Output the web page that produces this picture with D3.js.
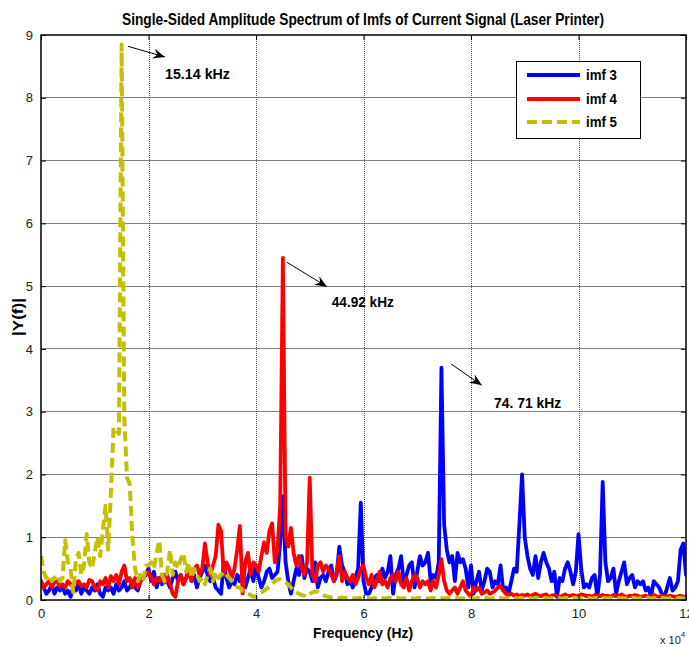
<!DOCTYPE html>
<html><head><meta charset="utf-8">
<script src="https://cdn.jsdelivr.net/npm/d3@7"></script>
<style>body{margin:0;background:#fff}svg{display:block}</style>
</head><body>
<svg id="chart" width="689" height="647"></svg>
<script>
// ---------------- DATA ----------------
const stepHz = 500; // frequency resolution of the spectra (0 .. 120 kHz)
const imf3 = [
  0.3,0.2,0.1,0.15,0.25,0.1,0.2,0.15,0.2,0.1,
  0.15,0.05,0.2,0.15,0.25,0.1,0.2,0.15,0.1,0.2,
  0.15,0.25,0.1,0.05,0.2,0.15,0.2,0.1,0.25,0.15,
  0.2,0.3,0.15,0.2,0.3,0.2,0.15,0.3,0.35,0.4,
  0.5,0.3,0.45,0.2,0.35,0.25,0.4,0.3,0.2,0.35,
  0.45,0.3,0.4,0.25,0.35,0.5,0.3,0.4,0.2,0.35,
  0.45,0.55,0.4,0.3,0.35,0.2,0.15,0.1,0.6,0.35,
  0.2,0.3,0.25,0.4,0.3,0.45,0.2,0.35,0.5,0.3,
  0.55,0.35,0.2,0.3,0.45,0.5,0.35,0.4,0.45,0.9,
  1.65,0.6,0.3,0.1,0.3,0.5,0.4,0.7,0.35,0.5,
  0.45,0.3,0.6,0.2,0.35,0.4,0.3,0.45,0.55,0.3,
  0.4,0.85,0.55,0.45,0.25,0.3,0.2,0.35,0.5,1.55,
  0.3,0.1,0.1,0.2,0.35,0.4,0.3,0.5,0.35,0.45,
  0.7,0.1,0.4,0.5,0.7,0.25,0.4,0.55,0.6,0.2,
  0.45,0.7,0.55,0.6,0.75,0.3,0.4,0.35,0.6,3.7,
  1.2,0.8,0.6,0.7,0.3,0.75,0.6,0.65,0.5,0.2,
  0.55,0.1,0.3,0.45,0.15,0.3,0.5,0.45,0.2,0.3,
  0.25,0.55,0.15,0.2,0.1,0.3,0.5,0.45,1.2,2.0,
  1.0,0.7,0.5,0.4,0.7,0.35,0.6,0.75,0.6,0.5,
  0.3,0.45,0.05,0.35,0.3,0.5,0.6,0.45,0.25,0.45,
  1.05,0.5,0.2,0.25,0.2,0.35,0.4,0.05,0.4,1.88,
  0.6,0.3,0.35,0.5,0.1,0.3,0.45,0.6,0.25,0.35,
  0.4,0.2,0.3,0.25,0.3,0.15,0.2,0.05,0.3,0.25,
  0.2,0.1,0.05,0.2,0.35,0.15,0.2,0.3,0.8,0.9,
  0.4
];
const imf4 = [
  0.3,0.2,0.25,0.3,0.2,0.28,0.3,0.22,0.25,0.2,
  0.3,0.25,0.2,0.28,0.3,0.22,0.25,0.2,0.32,0.3,
  0.2,0.15,0.3,0.25,0.35,0.2,0.38,0.3,0.4,0.25,
  0.45,0.55,0.3,0.35,0.2,0.35,0.2,0.3,0.35,0.4,
  0.45,0.35,0.25,0.35,0.3,0.4,0.28,0.4,0.25,0.1,
  0.05,0.3,0.4,0.25,0.35,0.45,0.3,0.5,0.55,0.4,
  0.5,0.9,0.6,0.4,0.55,0.7,1.2,1.1,0.4,0.6,
  0.5,0.35,0.5,0.8,1.18,0.1,0.6,0.75,0.4,0.6,
  0.55,0.45,0.7,0.92,0.75,1.1,1.22,0.6,0.8,1.5,
  5.45,1.0,0.85,1.15,0.75,0.55,0.7,0.5,0.4,0.6,
  1.95,0.4,0.3,0.55,0.6,0.45,0.55,0.5,0.4,0.3,
  0.45,0.7,0.3,0.45,0.35,0.3,0.4,0.25,0.35,0.5,
  0.55,0.35,0.25,0.4,0.2,0.3,0.45,0.25,0.3,0.2,
  0.35,0.4,0.3,0.45,0.25,0.2,0.35,0.15,0.3,0.4,
  0.35,0.2,0.3,0.25,0.3,0.15,0.3,0.2,0.4,0.65,
  0.3,0.15,0.1,0.15,0.2,0.1,0.2,0.3,0.15,0.1,
  0.05,0.2,0.15,0.2,0.1,0.12,0.15,0.1,0.12,0.15,
  0.2,0.22,0.15,0.1,0.08,0.1,0.07,0.09,0.06,0.08,
  0.07,0.09,0.06,0.08,0.1,0.07,0.06,0.08,0.09,0.05,
  0.07,0.08,0.06,0.05,0.07,0.09,0.06,0.07,0.08,0.06,
  0.07,0.09,0.08,0.06,0.07,0.05,0.08,0.07,0.06,0.08,
  0.06,0.07,0.05,0.08,0.06,0.07,0.09,0.06,0.05,0.07,
  0.06,0.08,0.07,0.05,0.06,0.07,0.05,0.06,0.08,0.06,
  0.05,0.07,0.06,0.05,0.07,0.06,0.05,0.06,0.07,0.05,
  0.06
];
const imf5 = [
  0.7,0.45,0.35,0.4,0.3,0.35,0.4,0.3,0.35,0.95,
  0.6,0.5,0.12,0.65,0.75,0.4,0.55,1.05,0.6,0.5,
  0.75,1.0,0.7,1.1,1.5,0.8,1.7,2.75,2.7,2.65,
  8.85,2.9,1.95,1.85,1.0,0.5,0.3,0.4,0.3,0.55,
  0.55,0.6,0.5,0.75,0.95,0.4,0.3,0.45,0.8,0.4,
  0.6,0.5,0.65,0.75,0.45,0.6,0.35,0.5,0.4,0.3,
  0.35,0.25,0.4,0.5,0.3,0.45,0.35,0.4,0.45,0.4,
  0.35,0.3,0.25,0.2,0.2,0.15,0.12,0.1,0.08,0.05,
  0.06,0.1,0.12,0.15,0.18,0.22,0.25,0.3,0.32,0.33,
  0.3,0.28,0.25,0.2,0.15,0.12,0.1,0.08,0.07,0.06,
  0.1,0.12,0.14,0.13,0.1,0.08,0.06,0.05,0.04,0.04,
  0.04,0.03,0.04,0.03,0.03,0.04,0.03,0.02,0.03,0.03,
  0.02,0.03,0.03,0.02,0.03,0.02,0.03,0.03,0.02,0.03,
  0.03,0.02,0.03,0.03,0.02,0.03,0.02,0.03,0.03,0.02,
  0.03,0.03,0.02,0.03,0.02,0.03,0.03,0.02,0.03,0.03,
  0.02,0.03,0.03,0.02,0.03,0.03,0.02,0.03,0.02,0.03,
  0.03,0.02,0.03,0.03,0.02,0.03,0.03,0.02,0.03,0.02,
  0.03,0.03,0.02,0.03,0.03,0.02,0.03,0.02,0.03,0.03,
  0.02,0.03,0.03,0.02,0.03,0.03,0.02,0.03,0.03,0.02,
  0.03,0.02,0.03,0.03,0.02,0.03,0.03,0.02,0.03,0.03,
  0.02,0.03,0.03,0.02,0.03,0.02,0.03,0.03,0.02,0.03,
  0.03,0.02,0.03,0.03,0.02,0.03,0.03,0.02,0.03,0.02,
  0.03,0.03,0.02,0.03,0.02,0.03,0.03,0.02,0.03,0.03,
  0.02,0.03,0.03,0.02,0.03,0.03,0.02,0.03,0.03,0.02,
  0.03
];
const seriesNames = ["imf 3","imf 4","imf 5"];
const seriesColors = ["#0000ff","#ff0000","#c2c000"];
const xTicks = [0,20000,40000,60000,80000,100000,120000];
const xTickLabels = ["0","2","4","6","8","10","12"];
const yTicks = [0,1,2,3,4,5,6,7,8,9];
const peakLabels = ["15.14 kHz","44.92 kHz","74. 71 kHz"];
// arrow start / tip and label anchor, in data units (Hz, |Y(f)|)
const arrowFrom = [[16190,8.82],[45770,5.38],[76300,3.76]];
const arrowTo   = [[23070,8.65],[53200,4.99],[82000,3.42]];
const labelAt   = [[23070,8.30],[54100,4.67],[84300,3.06]];
const labelWidths = [65,62,67];

// ---------------- CHART ----------------
const svg = d3.select("#chart");
const W = 689, H = 647;
const L = 41, R = 686, T = 35, B = 600;
const FONT = "'Liberation Sans Narrow','Liberation Sans',Arial,sans-serif";

const x = d3.scaleLinear().domain([0,120000]).range([L,R]);
const y = d3.scaleLinear().domain([0,9]).range([B,T]);

svg.append("rect").attr("width",W).attr("height",H).attr("fill","#fff");

// grid
const grid = svg.append("g");
grid.selectAll(".hg").data(yTicks.slice(1,-1)).enter().append("line")
  .attr("x1",L).attr("x2",R).attr("y1",d=>y(d)).attr("y2",d=>y(d))
  .attr("stroke","#808080").attr("stroke-width",1).attr("shape-rendering","crispEdges");
grid.selectAll(".vg").data(xTicks.slice(1,-1)).enter().append("line")
  .attr("y1",T).attr("y2",B).attr("x1",d=>Math.round(x(d))+0.5).attr("x2",d=>Math.round(x(d))+0.5)
  .attr("stroke","#555").attr("stroke-width",1).attr("stroke-dasharray","1,1");

// clip
svg.append("clipPath").attr("id","clip").append("rect")
  .attr("x",L).attr("y",T-10).attr("width",R-L).attr("height",B-T+10);

const seriesData = [imf3, imf4, imf5].map(vals => vals.map((v,i)=>({f:i*stepHz, v})));
const line = d3.line().x(d=>x(d.f)).y(d=>y(d.v));
const gLines = svg.append("g").attr("clip-path","url(#clip)");
seriesData.forEach((data,k)=>{
  gLines.append("path").datum(data).attr("d",line)
    .attr("fill","none").attr("stroke",seriesColors[k])
    .attr("stroke-width",k===2?4:3.8)
    .attr("stroke-linejoin","round")
    .attr("stroke-linecap",k===2?"butt":"round")
    .attr("stroke-dasharray",k===2?"10,5":null);
});

// axes box
svg.append("rect").attr("x",L).attr("y",T).attr("width",R-L).attr("height",B-T)
  .attr("fill","none").attr("stroke","#000").attr("stroke-width",1.5);
// ticks (inward)
const axB = d3.axisBottom(x).tickValues(xTicks).tickSize(-5).tickPadding(9).tickFormat((d,i)=>xTickLabels[i]);
const axT = d3.axisTop(x).tickValues(xTicks).tickSize(-5).tickFormat("");
const axL = d3.axisLeft(y).tickValues(yTicks).tickSize(-5).tickPadding(8).tickFormat(d3.format("d"));
const axR = d3.axisRight(y).tickValues(yTicks).tickSize(-5).tickFormat("");
function styleAxis(g){
  g.select(".domain").remove();
  g.selectAll(".tick line").attr("stroke","#000").attr("stroke-width",1);
  g.selectAll(".tick text").attr("font-family",FONT).attr("font-size",13).attr("fill","#222");
}
svg.append("g").attr("transform",`translate(0,${B})`).call(axB).call(styleAxis);
svg.append("g").attr("transform",`translate(0,${T})`).call(axT).call(styleAxis);
svg.append("g").attr("transform",`translate(${L},0)`).call(axL).call(styleAxis);
svg.append("g").attr("transform",`translate(${R},0)`).call(axR).call(styleAxis);

// title & labels
svg.append("text").attr("x",363).attr("y",25).attr("text-anchor","middle")
  .attr("font-family",FONT).attr("font-weight","bold").attr("font-size",16)
  .attr("textLength",482).attr("lengthAdjust","spacingAndGlyphs")
  .text("Single-Sided Amplitude Spectrum of Imfs of Current Signal (Laser Printer)");
svg.append("text").attr("x",363).attr("y",638).attr("text-anchor","middle")
  .attr("font-family",FONT).attr("font-weight","bold").attr("font-size",15)
  .attr("textLength",100).attr("lengthAdjust","spacingAndGlyphs")
  .text("Frequency (Hz)");
svg.append("text").attr("transform","translate(23,317) rotate(-90)").attr("text-anchor","middle")
  .attr("font-family",FONT).attr("font-weight","bold").attr("font-size",15)
  .attr("textLength",38).attr("lengthAdjust","spacingAndGlyphs")
  .text("|Y(f)|");
const mult = svg.append("text").attr("x",660).attr("y",644)
  .attr("font-family",FONT).attr("font-size",11).attr("fill","#222");
mult.append("tspan").text("x 10");
mult.append("tspan").attr("dy",-7).attr("font-size",8).text("4");

// annotations
const defs = svg.append("defs");
defs.append("marker").attr("id","ah").attr("viewBox","0 0 12 10")
  .attr("refX",12).attr("refY",5).attr("markerWidth",12).attr("markerHeight",10)
  .attr("markerUnits","userSpaceOnUse").attr("orient","auto")
  .append("path").attr("d","M0,0 L12,5 L0,10 L4,5 Z").attr("fill","#000");
peakLabels.forEach((lab,i)=>{
  svg.append("line")
    .attr("x1",x(arrowFrom[i][0])).attr("y1",y(arrowFrom[i][1]))
    .attr("x2",x(arrowTo[i][0])).attr("y2",y(arrowTo[i][1]))
    .attr("stroke","#000").attr("stroke-width",1).attr("marker-end","url(#ah)");
  svg.append("text").attr("x",x(labelAt[i][0])).attr("y",y(labelAt[i][1]))
    .attr("font-family",FONT).attr("font-weight","bold").attr("font-size",14)
    .attr("textLength",labelWidths[i]).attr("lengthAdjust","spacingAndGlyphs")
    .text(lab);
});

// legend
const lg = svg.append("g");
lg.append("rect").attr("x",516.5).attr("y",61.5).attr("width",124).attr("height",77)
  .attr("fill","#fff").attr("stroke","#000").attr("stroke-width",1);
const rowsY = [75,99,122];
seriesNames.forEach((n,k)=>{
  lg.append("line").attr("x1",527).attr("x2",580).attr("y1",rowsY[k]).attr("y2",rowsY[k])
    .attr("stroke",seriesColors[k]).attr("stroke-width",3.8)
    .attr("stroke-dasharray",k===2?"10,5":null);
  lg.append("text").attr("x",586).attr("y",rowsY[k]+5)
    .attr("font-family",FONT).attr("font-weight","bold").attr("font-size",15)
    .attr("textLength",31).attr("lengthAdjust","spacingAndGlyphs").text(n);
});
</script>
</body></html>
